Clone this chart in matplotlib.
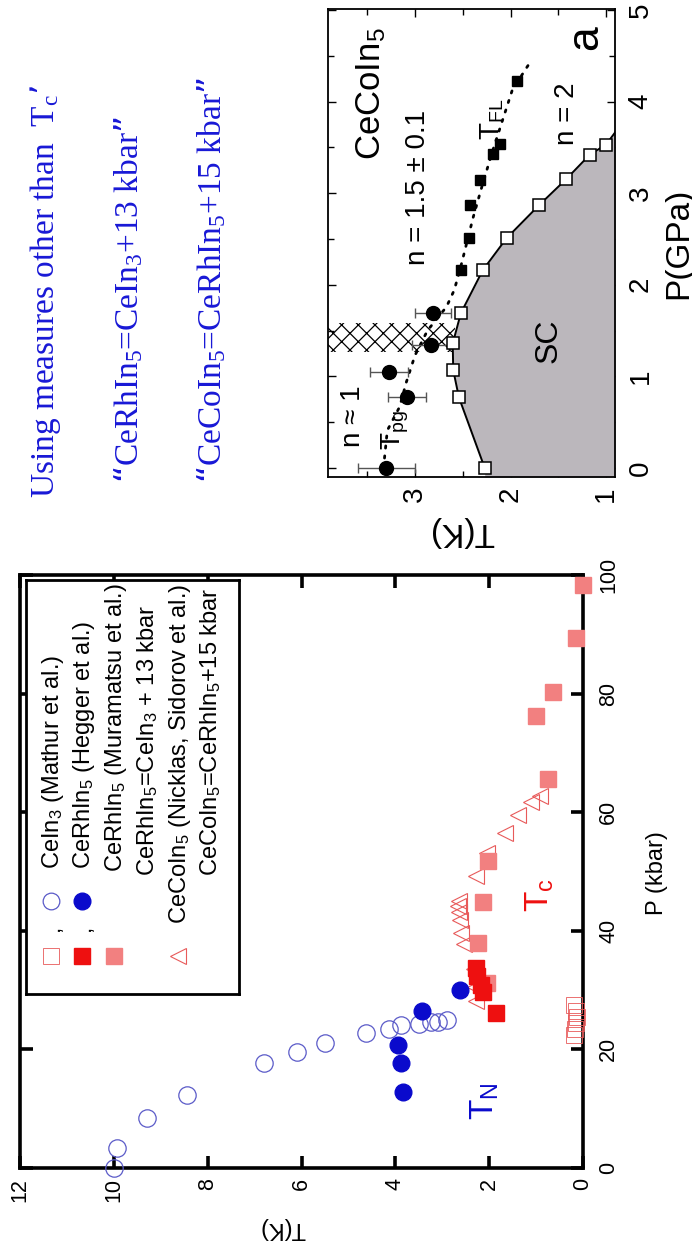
import matplotlib
matplotlib.use("Agg")
import matplotlib.pyplot as plt
from matplotlib.patches import Rectangle

# ---------------- data: left panel (T in K, P in kbar) ----------------
cein3_tn_T = [10.0, 9.93, 9.3, 8.45, 6.8, 6.1, 5.5, 4.62, 4.14, 3.87, 3.5, 3.24, 3.1, 2.9]
cein3_tn_P = [0.0, 3.3, 8.5, 12.3, 17.7, 19.6, 21.0, 22.8, 23.5, 24.1, 24.2, 24.6, 24.6, 25.0]
cein3_tc_T = [0.20, 0.18, 0.15, 0.12, 0.15, 0.20]
cein3_tc_P = [22.5, 23.5, 24.5, 25.5, 26.5, 27.5]
rh_hegger_tn_T = [3.84, 3.87, 3.95, 3.43, 2.62]
rh_hegger_tn_P = [12.9, 17.7, 20.8, 26.4, 30.0]
rh_hegger_tc_T = [2.29, 2.26, 2.18, 2.13, 1.85]
rh_hegger_tc_P = [33.8, 32.3, 30.8, 29.6, 26.2]
rh_mura_tc_T = [2.04, 2.23, 2.14, 2.02, 0.74, 1.0, 0.63, 0.14, 0.0]
rh_mura_tc_P = [31.2, 37.9, 44.8, 51.7, 65.6, 76.3, 80.2, 89.4, 98.3]
co_tc_T = [2.27, 2.30, 2.32, 2.54, 2.60, 2.62, 2.65, 2.67, 2.65, 2.27, 2.04, 1.66, 1.38, 1.10, 0.91]
co_tc_P = [28.1, 30.5, 33.5, 37.7, 39.6, 41.9, 43.1, 44.2, 45.0, 49.2, 53.2, 56.5, 59.6, 61.8, 62.7]

legend_labels = [
    "CeIn$\\mathregular{_3}$ (Mathur et al.)",
    "CeRhIn$\\mathregular{_5}$ (Hegger et al.)",
    "CeRhIn$\\mathregular{_5}$ (Muramatsu et al.)",
    "CeRhIn$\\mathregular{_5}$=CeIn$\\mathregular{_3}$ + 13 kbar",
    "CeCoIn$\\mathregular{_5}$ (Nicklas, Sidorov et al.)",
    "CeCoIn$\\mathregular{_5}$=CeRhIn$\\mathregular{_5}$+15 kbar",
]
left_T_ticks = [0, 2, 4, 6, 8, 10, 12]
left_P_ticks = [0, 20, 40, 60, 80, 100]

# ---------------- data: right panel CeCoIn5 (T in K, P in GPa) ----------------
sc_T = [2.27, 2.54, 2.60, 2.605, 2.52, 2.29, 2.04, 1.70, 1.42, 1.17, 1.00]
sc_P = [0.00, 0.77, 1.07, 1.36, 1.69, 2.16, 2.51, 2.87, 3.15, 3.42, 3.53]
sc_edge_T = [0.90]
sc_edge_P = [3.67]
tpg_T = [3.30, 3.08, 3.27, 2.83, 2.81]
tpg_P = [0.00, 0.77, 1.05, 1.34, 1.69]
tpg_err = [0.30, 0.20, 0.20, 0.20, 0.19]
tfl_T = [2.52, 2.43, 2.42, 2.32, 2.18, 2.11, 1.93]
tfl_P = [2.16, 2.51, 2.87, 3.14, 3.43, 3.54, 4.22]
fit_T = [3.33, 3.29, 3.16, 3.09, 3.00, 2.87, 2.67, 2.59, 2.53, 2.46, 2.39, 2.30, 2.20, 1.98, 1.80]
fit_P = [0.00, 0.41, 0.67, 0.94, 1.23, 1.50, 1.76, 1.94, 2.16, 2.45, 2.74, 3.07, 3.42, 4.13, 4.42]
hatch_P = [1.27, 1.58]
hatch_T_low = 2.58
right_T_ticks = [1, 2, 3]
right_P_ticks = [0, 1, 2, 3, 4, 5]

# ---------------- figure ----------------
W, H, DPI = 692, 1257, 100
plt.rcParams['font.family'] = ['Liberation Sans', 'DejaVu Sans']
plt.rcParams['hatch.linewidth'] = 0.9
fig = plt.figure(figsize=(W / DPI, H / DPI), dpi=DPI)
fig.patch.set_facecolor('white')


def rect(l, t, r, b):
    return [l / W, 1 - b / H, (r - l) / W, (b - t) / H]


def ftext(x, y, s, **kw):
    kw.setdefault('rotation', 90)
    kw.setdefault('rotation_mode', 'anchor')
    return fig.text(x / W, 1 - y / H, s, **kw)


BLUE_O = '#5a5ac8'
BLUE_F = '#0a0acc'
RED_F = '#ee1010'
SALMON = '#f28080'
RED_O = '#e85a5a'

# ---------------- left panel ----------------
axL = fig.add_axes(rect(20, 575, 583, 1168))
axL.set_xlim(12, 0)
axL.set_ylim(0, 100)
axL.set_xticks(left_T_ticks)
axL.set_yticks(left_P_ticks)
axL.yaxis.tick_right()
for s in axL.spines.values():
    s.set_linewidth(2.6)
axL.tick_params(axis='both', direction='in', length=9, width=2.6,
                top=True, bottom=True, left=True, right=True,
                labelbottom=True, labelright=True, labelleft=False, labeltop=False,
                labelsize=15.5)
axL.tick_params(axis='x', labelrotation=90, pad=7)
axL.tick_params(axis='y', labelrotation=90, pad=11)
for lbl in axL.get_yticklabels():
    lbl.set_va('center')

axL.plot(cein3_tn_T, cein3_tn_P, 'o', ms=12.5, mfc='none', mec=BLUE_O, mew=0.9, clip_on=False, zorder=3)
axL.plot(cein3_tc_T, cein3_tc_P, 's', ms=11, mfc='none', mec=RED_O, mew=0.6, clip_on=False, zorder=3)
axL.plot(co_tc_T, co_tc_P, '<', ms=11, mfc='none', mec=RED_O, mew=0.8, clip_on=False, zorder=3)
axL.plot(rh_mura_tc_T, rh_mura_tc_P, 's', ms=11.5, mfc=SALMON, mec=SALMON, clip_on=False, zorder=4)
axL.plot(rh_hegger_tc_T, rh_hegger_tc_P, 's', ms=11.5, mfc=RED_F, mec=RED_F, clip_on=False, zorder=4)
axL.plot(rh_hegger_tn_T, rh_hegger_tn_P, 'o', ms=12, mfc=BLUE_F, mec=BLUE_F, clip_on=False, zorder=4)

# legend box (manual, rotated)
axLeg = fig.add_axes(rect(26, 580, 239, 994))
axLeg.set_xlim(26, 239)
axLeg.set_ylim(994, 580)
axLeg.set_xticks([])
axLeg.set_yticks([])
for s in axLeg.spines.values():
    s.set_linewidth(2.0)
leg_x = [51, 82, 114, 146, 178, 209]
leg_base = [59, 90, 122, 154, 186, 217]
leg_start = [869, 869, 872, 876, 924, 876]
for xb, ys, lab in zip(leg_base, leg_start, legend_labels):
    axLeg.text(xb, ys, lab, rotation=90, rotation_mode='anchor', ha='left', va='baseline', fontsize=17)
axLeg.plot([leg_x[0]], [956], 's', ms=11, mfc='none', mec=RED_O, mew=0.6)
axLeg.plot([leg_x[0]], [901], 'o', ms=12, mfc='none', mec=BLUE_O, mew=0.9)
axLeg.plot([leg_x[1]], [956], 's', ms=11.5, mfc=RED_F, mec=RED_F)
axLeg.plot([leg_x[1]], [901], 'o', ms=12, mfc=BLUE_F, mec=BLUE_F)
axLeg.plot([leg_x[2]], [956], 's', ms=11.5, mfc=SALMON, mec=SALMON)
axLeg.plot([leg_x[4]], [956], '<', ms=11, mfc='none', mec=RED_O, mew=0.8)
for xc in leg_x[:2]:
    axLeg.text(xc + 8, 928, ",", rotation=90, rotation_mode='anchor', ha='center', va='baseline', fontsize=16)

ftext(494, 1120, "T$\\mathregular{_N}$", ha='left', va='baseline', fontsize=24, color=BLUE_F)
ftext(549, 912, "T$\\mathregular{_c}$", ha='left', va='baseline', fontsize=24, color=RED_F)
ftext(657, 873, "P (kbar)", ha='center', va='center', fontsize=17)
ftext(282, 1228, "T(K)", ha='center', va='center', fontsize=17, rotation=180)

# ---------------- right panel ----------------
axR = fig.add_axes(rect(328, 9, 615, 477))
xl = (3.911, 0.906)
yl = (-0.098, 5.01)
axR.set_xlim(*xl)
axR.set_ylim(*yl)
axR.set_xticks(right_T_ticks)
axR.set_xticks([1.5, 2.5, 3.5], minor=True)
axR.set_yticks(right_P_ticks)
axR.set_yticks([0.5, 1.5, 2.5, 3.5, 4.5], minor=True)
axR.yaxis.tick_right()
for s in axR.spines.values():
    s.set_linewidth(1.3)
axR.tick_params(axis='both', which='both', direction='in', width=1.0,
                top=True, bottom=True, left=True, right=True,
                labelbottom=True, labelright=True, labelleft=False, labeltop=False,
                labelsize=20)
axR.tick_params(which='major', length=6)
axR.tick_params(which='minor', length=4)
axR.tick_params(axis='x', labelrotation=90, pad=7)
axR.tick_params(axis='y', labelrotation=90, pad=9)
for lbl in axR.get_yticklabels():
    lbl.set_va('center')

# hatched pseudogap window
axR.add_patch(Rectangle((hatch_T_low, hatch_P[0]), xl[0] - hatch_T_low, hatch_P[1] - hatch_P[0],
                        facecolor='white', edgecolor='black', hatch='xx', lw=0, zorder=1))
# SC dome fill + boundary
bT = sc_T + sc_edge_T
bP = sc_P + sc_edge_P
fill_P = [yl[0]] + bP
fill_T = [sc_T[0]] + bT
axR.fill_betweenx(fill_P, fill_T, xl[1], color='#bbb7bc', lw=0, zorder=2)
axR.plot(bT, bP, '-', color='black', lw=1.4, zorder=3)
# dotted crossover line
axR.plot(fit_T, fit_P, color='black', lw=2.0, linestyle=(0, (0.8, 2.8)), dash_capstyle='round', zorder=3)
axR.errorbar(tpg_T, tpg_P, xerr=tpg_err, fmt='o', ms=10, mfc='black', mec='black',
             ecolor='#555555', elinewidth=1.0, capsize=3.5, capthick=1.0, zorder=5)
axR.plot(tfl_T, tfl_P, 's', ms=7.5, mfc='black', mec='black', zorder=5)
axR.plot(sc_T, sc_P, 's', ms=8, mfc='white', mec='black', mew=1.1, zorder=6, clip_on=False)

ftext(380, 160, "CeCoIn$\\mathregular{_5}$", ha='left', va='baseline', fontsize=25)
ftext(425, 265, "n = 1.5 ± 0.1", ha='left', va='baseline', fontsize=20)
ftext(574, 145, "n = 2", ha='left', va='baseline', fontsize=20)
ftext(360, 447, "n ≈ 1", ha='left', va='baseline', fontsize=20)
ftext(400, 450, "T$\\mathregular{_{pg}}$", ha='left', va='baseline', fontsize=20)
ftext(500, 140, "T$\\mathregular{_{FL}}$", ha='left', va='baseline', fontsize=20)
ftext(557, 363, "SC", ha='left', va='baseline', fontsize=23)
ftext(597, 50, "a", ha='left', va='baseline', fontsize=32)
ftext(687, 243, "P(GPa)", ha='center', va='baseline', fontsize=24)
ftext(462, 532, "T(K)", ha='center', va='center', fontsize=24, rotation=180)

# ---------------- blue annotation text ----------------
BLUE_T = '#1818d6'
ser = ['Liberation Serif', 'DejaVu Serif']
ftext(54, 498, "Using measures other than  T$\\mathregular{_c}$’", ha='left', va='baseline',
      fontsize=24, color=BLUE_T, family=ser)
ftext(138, 483, "“CeRhIn$\\mathregular{_5}$=CeIn$\\mathregular{_3}$+13 kbar”", ha='left', va='baseline',
      fontsize=24, color=BLUE_T, family=ser)
ftext(221, 483, "“CeCoIn$\\mathregular{_5}$=CeRhIn$\\mathregular{_5}$+15 kbar”", ha='left', va='baseline',
      fontsize=24, color=BLUE_T, family=ser)

fig.savefig("out.png", dpi=DPI)
